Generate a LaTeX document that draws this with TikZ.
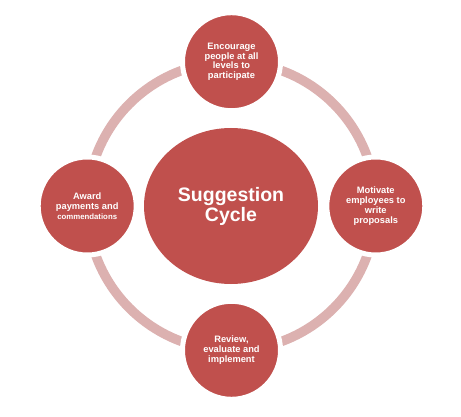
\documentclass[tikz,border=0pt]{standalone}
\usepackage{fontspec}
\setmainfont{Liberation Sans}
\usetikzlibrary{shapes.geometric,backgrounds}
\definecolor{cyclered}{HTML}{C0504D}
\definecolor{cyclering}{HTML}{DCB1B0}
\begin{document}
\begin{tikzpicture}[x=1pt, y=1pt,
  stage/.style={circle, fill=cyclered, draw=white, line width=5pt, minimum size=98pt, inner sep=0pt, text=white, font=\bfseries\fontsize{9.3}{9.8}\selectfont, align=center},
  hub/.style={ellipse, fill=cyclered, minimum width=174pt, minimum height=156pt, inner sep=0pt, text=white, font=\bfseries\fontsize{19.5}{20}\selectfont, align=center},
  link/.style={draw=cyclering, line width=9.5pt}]
\useasboundingbox (0,0) rectangle (461,-417);
\node (c) at (231,-206) [hub] {Suggestion\\Cycle};
\node (t) at (231.5,-61.7) [stage] {Encourage\\people at all\\levels to\\participate};
\node (r) at (375.8,-206) [stage] {Motivate\\employees to\\write\\proposals};
\node (b) at (231.5,-350.3) [stage] {Review,\\evaluate and\\implement};
\node (l) at (87.2,-206) [stage] {Award\\payments and\\{\fontsize{7.8}{9}\selectfont commendations}};

\begin{scope}[on background layer]
\draw[link] (t.center) to[bend right=45] (l.center);
\draw[link] (l.center) to[bend right=45] (b.center);
\draw[link] (b.center) to[bend right=45] (r.center);
\draw[link] (r.center) to[bend right=45] (t.center);
\end{scope}
\end{tikzpicture}
\end{document}
